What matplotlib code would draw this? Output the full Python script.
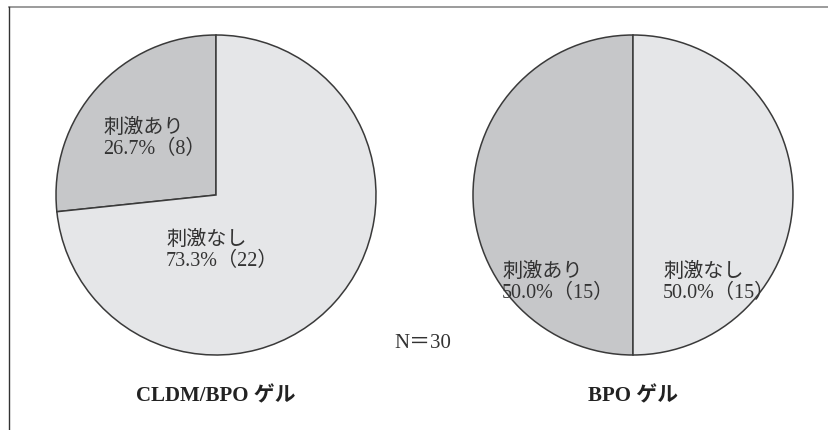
import matplotlib
matplotlib.use("Agg")
import matplotlib.pyplot as plt

# 刺激の有無（N = 30）
labels = ["刺激あり", "刺激なし"]
cldm_bpo = [8, 22]
bpo = [15, 15]
titles = ["CLDM/BPO ゲル", "BPO ゲル"]
n_total = 30

colors = ["#c6c7c9", "#e5e6e8"]
fam = ["Liberation Serif", "Noto Sans CJK JP"]

W, H = 829, 430
fig = plt.figure(figsize=(W / 100, H / 100), dpi=100)
ax = fig.add_axes([0, 0, 1, 1])

centers = [(216, H - 195), (633, H - 195)]
radius = 160
for counts, c in zip([cldm_bpo, bpo], centers):
    ax.pie(counts, colors=colors, startangle=90, counterclock=True,
           center=c, radius=radius,
           wedgeprops=dict(edgecolor="#3a3a3a", linewidth=1.1))

def pct_label(name, k):
    return f"{name}\n{100 * k / n_total:.1f}%（{k}）"

# ラベル位置（左上基準）
label_pos = [[(103, 139), (166, 251)], [(502, 283), (663, 283)]]
for counts, pos in zip([cldm_bpo, bpo], label_pos):
    for name, k, (x, y) in zip(labels, counts, pos):
        ax.text(x, H - y, pct_label(name, k), family=fam, fontsize=14.5,
                color="#333333", va="center", ha="left", linespacing=1.12)

for t, c in zip(titles, centers):
    ax.text(c[0], H - 396, t, family=fam, fontsize=15, fontweight="bold",
            color="#222222", ha="center", va="center")

ax.text(423, H - 343, f"N＝{n_total}", family=fam, fontsize=15,
        color="#333333", ha="center", va="center")

# 枠線（上・左）
ax.plot([9, W], [H - 7, H - 7], color="#8a8a8a", lw=1.2)
ax.plot([9, 9], [0, H - 7], color="#333333", lw=1.0)

ax.set_xlim(0, W)
ax.set_ylim(0, H)
ax.set_aspect("equal")
ax.axis("off")

fig.savefig("out.png", dpi=100)
